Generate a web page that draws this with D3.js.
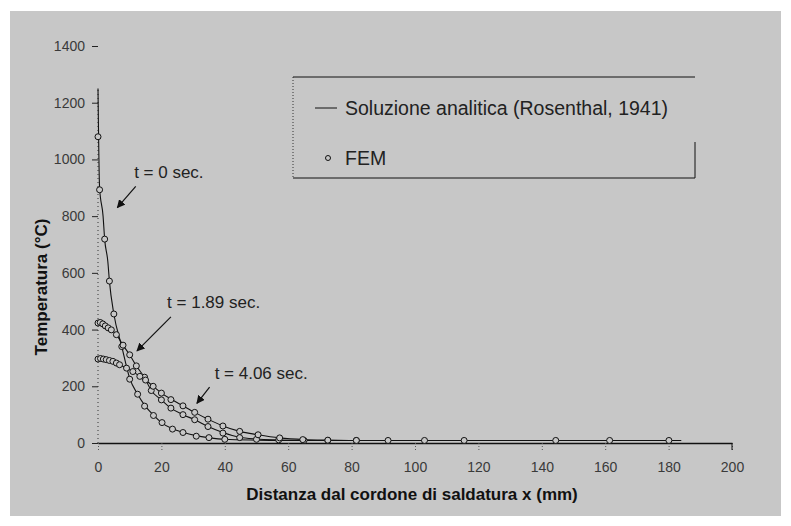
<!DOCTYPE html>
<html>
<head>
<meta charset="utf-8">
<script src="https://cdn.jsdelivr.net/npm/d3@7"></script>
<style>
  body { margin: 0; background: #fff; }
  text { font-family: "Liberation Sans", Arial, sans-serif; }
</style>
</head>
<body>
<svg id="chart" width="791" height="526"></svg>
<script>
// tick values
var xTicks = [0, 20, 40, 60, 80, 100, 120, 140, 160, 180, 200];
var yTicks = [0, 200, 400, 600, 800, 1000, 1200, 1400];

// analytic solution (Rosenthal), distance x (mm) / temperature (°C)
var lineX_t0   = [0, 0.5, 1.6, 2.1, 3.1, 3.6, 5, 7.5, 10, 12.5, 15, 17.5, 20, 23.5, 27, 31, 35, 40, 50, 57, 65, 72, 82];
var lineT_t0   = [1250, 900, 800, 719, 640, 571, 455, 340, 228, 172, 129, 98, 72, 50, 37, 26, 19, 13, 10, 9, 9, 9, 9];
var lineX_t189 = [0, 2.1, 4.2, 5.8, 7.9, 10, 12.1, 14.7, 16.8, 20, 23, 26.8, 30.5, 34.7, 39.4, 44.7, 50, 57, 65, 72, 82];
var lineT_t189 = [423, 411, 399, 382, 345, 311, 272, 230, 185, 152, 123, 100, 82, 58, 37, 20, 14, 11, 9, 9, 9];
var lineX_t406 = [0, 2.6, 4.7, 6.8, 9, 11, 13.2, 15, 17.4, 20, 23, 26.8, 30.5, 34.7, 39.4, 44.7, 50.5, 57.3, 65, 72, 82, 91.5, 103, 115.5, 128, 144.4, 161.4, 180.1, 184];
var lineT_t406 = [296, 294, 288, 276, 264, 252, 235, 222, 200, 176, 155, 131, 108, 84, 60, 41, 29, 18, 12, 10, 9, 9, 9, 9, 9, 9, 9, 9, 9];

// FEM results
var femX_t0   = [0, 0.5, 2.1, 3.6, 5, 7.5, 10, 12.5, 14.7, 17.5, 20.2, 23.5, 26.8, 31, 35, 40];
var femT_t0   = [1080, 893, 719, 571, 455, 340, 225, 172, 130, 97, 72, 49, 37, 24, 19, 13];
var femX_t189 = [0, 0.7, 1.5, 2.3, 3.2, 4.2, 5.8, 7.9, 10, 12.1, 14.7, 16.8, 20, 23, 26.8, 30.5, 34.7, 39.4, 44.7, 50, 57, 65, 72.5, 81.5];
var femT_t189 = [423, 425, 420, 413, 406, 399, 382, 345, 311, 272, 232, 185, 152, 123, 100, 82, 58, 35, 19, 13, 11, 9, 9, 9];
var femX_t406 = [0, 0.8, 1.7, 2.6, 3.6, 4.7, 5.8, 6.8, 9, 11, 13.2, 15, 17.4, 20, 23, 26.8, 30.5, 34.7, 39.4, 44.7, 50.5, 57.3, 64.6, 72.5, 81.5, 91.5, 103, 115.5, 144.4, 161.4, 180.1];
var femT_t406 = [296, 298, 296, 294, 291, 288, 282, 276, 264, 252, 235, 222, 200, 176, 153, 131, 108, 84, 60, 41, 29, 18, 12, 10, 9, 9, 9, 9, 9, 9, 9];

// curve labels, with arrow (all in data units)
var annLabels = ["t = 0 sec.", "t = 1.89 sec.", "t = 4.06 sec."];
var annTextX  = [11.4, 21.8, 36.8];
var annTextT  = [935, 476, 226];
var annFromX  = [11.9, 23, 35.2];
var annFromT  = [905, 445, 197];
var annToX    = [6.1, 12.3, 31.2];
var annToT    = [830, 325, 140];

var svg = d3.select("#chart");

svg.append("rect")
    .attr("x", 10).attr("y", 11)
    .attr("width", 771).attr("height", 505)
    .attr("fill", "#c7c7c7");

var margin = { left: 98, top: 46, right: 59, bottom: 83 };
var width = 791 - margin.left - margin.right,
    height = 526 - margin.top - margin.bottom;

var x = d3.scaleLinear().domain([0, 200]).range([margin.left, margin.left + width]);
var y = d3.scaleLinear().domain([0, 1400]).range([margin.top + height, margin.top]);

// y axis
var yAxis = svg.append("g")
    .attr("transform", "translate(" + x(0) + ",0)")
    .call(d3.axisLeft(y).tickValues(yTicks).tickFormat(d3.format("d")).tickSize(6).tickPadding(7));
yAxis.select(".domain").remove();
yAxis.selectAll("text").attr("font-size", 14).attr("fill", "#3a3a3a");
yAxis.selectAll("line").attr("stroke", "#222");
svg.append("line")
    .attr("x1", x(0)).attr("x2", x(0))
    .attr("y1", y(0)).attr("y2", y(1250))
    .attr("stroke", "#333").attr("stroke-dasharray", "1,3");

// x axis
var xAxis = svg.append("g")
    .attr("transform", "translate(0," + y(0) + ")")
    .call(d3.axisBottom(x).tickValues(xTicks).tickFormat(d3.format("d")).tickSize(7).tickPadding(12).tickSizeOuter(0));
xAxis.select(".domain").attr("stroke", "#111").attr("stroke-width", 1.3);
xAxis.selectAll(".tick line").attr("stroke", "#555").attr("stroke-dasharray", "1,2");
xAxis.selectAll("text").attr("font-size", 14).attr("fill", "#3a3a3a");
svg.append("line")
    .attr("x1", x(200)).attr("x2", x(200))
    .attr("y1", y(0)).attr("y2", y(0) + 7)
    .attr("stroke", "#111");

// axis titles
svg.append("text")
    .attr("x", (x(0) + x(200)) / 2 - 3).attr("y", 500)
    .attr("text-anchor", "middle")
    .attr("font-size", 17).attr("font-weight", "bold").attr("fill", "#111")
    .text("Distanza dal cordone di saldatura x (mm)");
svg.append("text")
    .attr("transform", "translate(47,287) rotate(-90)")
    .attr("text-anchor", "middle")
    .attr("font-size", 17).attr("font-weight", "bold").attr("fill", "#111")
    .text("Temperatura (°C)");

// series
var analytic = [
  d3.zip(lineX_t0, lineT_t0),
  d3.zip(lineX_t189, lineT_t189),
  d3.zip(lineX_t406, lineT_t406)
];
var fem = [
  d3.zip(femX_t0, femT_t0),
  d3.zip(femX_t189, femT_t189),
  d3.zip(femX_t406, femT_t406)
];

var line = d3.line()
    .x(function(d) { return x(d[0]); })
    .y(function(d) { return y(d[1]); })
    .curve(d3.curveMonotoneX);

svg.selectAll(".analytic")
  .data(analytic)
  .enter().append("path")
    .attr("class", "analytic")
    .attr("d", line)
    .attr("fill", "none")
    .attr("stroke", "#111")
    .attr("stroke-width", 1.1);

fem.forEach(function(s) {
  svg.selectAll(null)
    .data(s)
    .enter().append("circle")
      .attr("cx", function(d) { return x(d[0]); })
      .attr("cy", function(d) { return y(d[1]); })
      .attr("r", 3)
      .attr("fill", "#c7c7c7")
      .attr("stroke", "#111")
      .attr("stroke-width", 1);
});

// annotations
svg.append("defs").append("marker")
    .attr("id", "head")
    .attr("viewBox", "0 0 10 10")
    .attr("refX", 9).attr("refY", 5)
    .attr("markerWidth", 7).attr("markerHeight", 7)
    .attr("orient", "auto")
  .append("path")
    .attr("d", "M0,0L10,5L0,10z")
    .attr("fill", "#111");

annLabels.forEach(function(lbl, i) {
  svg.append("text")
      .attr("x", x(annTextX[i])).attr("y", y(annTextT[i]))
      .attr("font-size", 17).attr("fill", "#222")
      .text(lbl);
  svg.append("line")
      .attr("x1", x(annFromX[i])).attr("y1", y(annFromT[i]))
      .attr("x2", x(annToX[i])).attr("y2", y(annToT[i]))
      .attr("stroke", "#111").attr("stroke-width", 1.2)
      .attr("marker-end", "url(#head)");
});

// legend
var lg = svg.append("g");
lg.append("line").attr("x1", 293).attr("x2", 695).attr("y1", 77).attr("y2", 77).attr("stroke", "#111");
lg.append("line").attr("x1", 293).attr("x2", 695).attr("y1", 178).attr("y2", 178).attr("stroke", "#111");
lg.append("line").attr("x1", 293).attr("x2", 293).attr("y1", 77).attr("y2", 178)
    .attr("stroke", "#333").attr("stroke-dasharray", "1,2");
lg.append("line").attr("x1", 695).attr("x2", 695).attr("y1", 142).attr("y2", 178).attr("stroke", "#111");
lg.append("line").attr("x1", 315).attr("x2", 337).attr("y1", 108).attr("y2", 108).attr("stroke", "#111");
lg.append("text").attr("x", 345).attr("y", 115)
    .attr("font-size", 19.5).attr("fill", "#222")
    .text("Soluzione analitica (Rosenthal, 1941)");
lg.append("circle").attr("cx", 328).attr("cy", 158).attr("r", 2.5)
    .attr("fill", "#c7c7c7").attr("stroke", "#111");
lg.append("text").attr("x", 345).attr("y", 165)
    .attr("font-size", 19.5).attr("fill", "#222")
    .text("FEM");
</script>
</body>
</html>
